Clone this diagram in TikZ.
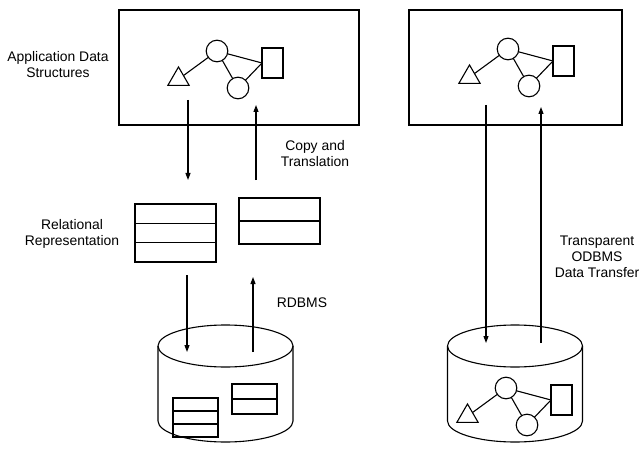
\documentclass[tikz,border=0pt]{standalone}
\usepackage{fontspec}
\setmainfont{Liberation Sans}
\usetikzlibrary{
    positioning,
    shapes.geometric,
    arrows.meta
}

\tikzset{
  obj/.style={draw, inner sep=0pt, outer sep=0pt},
  objnet/.pic={
    \node[obj, circle, minimum size=21.6] (-c1) at (0,0) {};
    \node[obj, circle, minimum size=21.6] (-c2) at (21,-37) {};
    \node[obj, rectangle, minimum width=21, minimum height=30] (-r) at (55.5,-12) {};
    \node[obj, regular polygon, regular polygon sides=3, minimum size=24.5] (-t) at (-38.5,-28.2) {};
    \draw (-t) -- (-c1);
    \draw (-c1) -- (-c2);
    \draw (-c1) -- (-r.west);
    \draw (-c2) -- (-r.west);
  },
  dbcyl/.pic={
    \draw (-67.5,0) -- (-67.5,-75)
      arc[start angle=180, end angle=360, x radius=67.5, y radius=21] -- (67.5,0);
    \draw (0,0) ellipse[x radius=67.5, y radius=21];
    \coordinate (-top) at (0,0);
  }
}

\begin{document}
\begin{tikzpicture}[x=1pt, y=1pt, line width=1.1pt,
  frame/.style={draw, rectangle, minimum height=115, inner sep=0pt},
  row/.style={draw, rectangle, inner sep=0pt, outer sep=0pt, minimum width=#1},
  flow/.style={-{Triangle[length=7pt,width=5pt]}},
  txt/.style={align=center, inner sep=0pt, font=\fontsize{13.9}{16}\selectfont}]
\useasboundingbox (0,0) rectangle (644,453);

% application data structures
\node[frame, minimum width=240] (appL) at (239,385.5) {};
\node[frame, minimum width=213] (appR) at (515.5,385.5) {};
\pic (netL) at (217,402) {objnet};
\pic (netR) at (508,404) {objnet};

% relational representation
\node[row=81, minimum height=19.33] (relA1) at (175.5,239.33) {};
\node[row=81, minimum height=19.33, below=0pt of relA1] (relA2) {};
\node[row=81, minimum height=19.33, below=0pt of relA2] (relA3) {};
\node[row=81, minimum height=23] (relB1) at (279.5,243.5) {};
\node[row=81, minimum height=23, below=0pt of relB1] (relB2) {};

% databases
\pic (dbL) at (225.5,107) {dbcyl};
\pic (dbR) at (515,107) {dbcyl};
\node[row=45, minimum height=13] (cellA1) at (195.5,48.5) {};
\node[row=45, minimum height=13, below=0pt of cellA1] (cellA2) {};
\node[row=45, minimum height=13, below=0pt of cellA2] (cellA3) {};
\node[row=45, minimum height=15] (cellB1) at (254.5,61.5) {};
\node[row=45, minimum height=15, below=0pt of cellB1] (cellB2) {};
\pic (netD) at (506,65) {objnet};

% arrow ends
\coordinate (appL-out) at (188,353);
\coordinate (relA-in) at (188,273);
\coordinate (relB-out) at (256,273);
\coordinate (appL-in) at (256,348);
\coordinate (relA-out) at (187,178);
\coordinate (dbL-in) at (187,101);
\coordinate (dbL-out) at (253,101);
\coordinate (relB-in) at (253,176);
\coordinate (appR-out) at (486,348);
\coordinate (dbR-in) at (486,110);
\coordinate (dbR-out) at (541,110);
\coordinate (appR-in) at (541,346);

\draw[flow] (appL-out) -- (relA-in);
\draw[flow] (relB-out) -- (appL-in);
\draw[flow] (relA-out) -- (dbL-in);
\draw[flow] (dbL-out) -- (relB-in);
\draw[flow] (appR-out) -- (dbR-in);
\draw[flow] (dbR-out) -- (appR-in);

% labels
\node[txt] (appText) at (58,388) {Application Data\\Structures};
\node[txt] (copyText) at (315,299.5) {Copy and\\Translation};
\node[txt] (relText) at (72,219.5) {Relational\\Representation};
\node[txt] (rdbmsText) at (302,150) {RDBMS};
\node[txt] (odbmsText) at (597,196.5) {Transparent\\ODBMS\\Data Transfer};
\end{tikzpicture}
\end{document}
